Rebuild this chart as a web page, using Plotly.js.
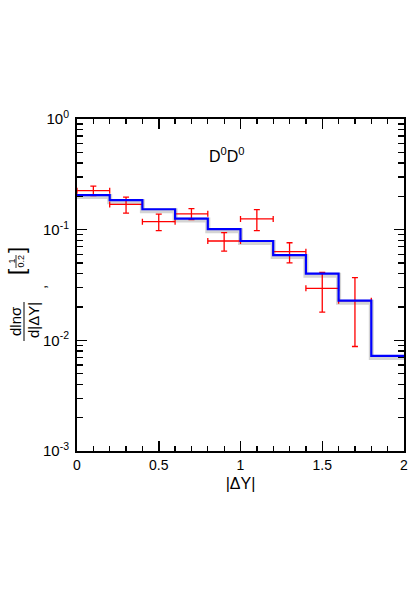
<!DOCTYPE html>
<html>
<head>
<meta charset="utf-8">
<script src="https://cdn.plot.ly/plotly-3.0.1.min.js"></script>
<style>html,body{margin:0;padding:0;background:#fff;}#plot{width:415px;height:593px;}</style>
</head>
<body>
<div id="plot"></div>
<script>
// Bin edges in |ΔY|
const binEdges = [0, 0.2, 0.4, 0.6, 0.8, 1.0, 1.2, 1.4, 1.6, 1.8, 2.0];
// Theory (blue histogram), one value per bin
const theory = [0.205, 0.185, 0.153, 0.126, 0.101, 0.079, 0.059, 0.040, 0.0228, 0.00724];
// Theory uncertainty band (gray)
const bandVals = [0.199, 0.179, 0.148, 0.122, 0.098, 0.0765, 0.0572, 0.0388, 0.0221, 0.0070];
// Data points (red)
const dataX = [0.1, 0.3, 0.5, 0.7, 0.9, 1.1, 1.3, 1.5, 1.7];
const dataY = [0.225, 0.169, 0.118, 0.139, 0.079, 0.125, 0.0632, 0.0295, 0.0228];
const dataErrY = [0.022, 0.028, 0.020, 0.016, 0.015, 0.027, 0.013, 0.0115, 0.014];
const dataErrX = [0.1, 0.1, 0.1, 0.1, 0.1, 0.1, 0.1, 0.1, 0.1];
// Tick labels
const xTickVals = [0, 0.5, 1, 1.5, 2];
const xTickText = ['0', '0.5', '1', '1.5', '2'];
const yTickVals = [0.001, 0.01, 0.1, 1];
const yTickText = ['10<sup>-3</sup>', '10<sup>-2</sup>', '10<sup>-1</sup>', '10<sup>0</sup>'];

const stepY = theory.concat([theory[theory.length - 1]]);
const bandY = bandVals.concat([bandVals[bandVals.length - 1]]);

const yMinor = [];
for (let e = -3; e < 0; e++) for (let d = 2; d <= 9; d++) yMinor.push(d * Math.pow(10, e));

const traces = [
  {
    x: binEdges, y: bandY, type: 'scatter', mode: 'lines',
    line: {shape: 'hv', color: 'rgba(160,160,160,0.45)', width: 5},
    hoverinfo: 'skip', showlegend: false
  },
  {
    x: dataX, y: dataY, type: 'scatter', mode: 'markers',
    marker: {size: 1, color: 'rgba(0,0,0,0)'},
    error_y: {type: 'data', array: dataErrY, visible: true, color: '#ff0000', thickness: 1.3, width: 3},
    error_x: {type: 'data', array: dataErrX, visible: true, color: '#ff0000', thickness: 1.3, width: 3},
    showlegend: false
  },
  {
    x: binEdges, y: stepY, type: 'scatter', mode: 'lines',
    line: {shape: 'hv', color: '#0000ff', width: 2.2},
    showlegend: false
  }
];

const L = 77, R = 404, T = 119, B = 451;
const px = v => (v - L) / (R - L);
const py = v => (B - v) / (B - T);
const font = 'Liberation Sans, Arial, sans-serif';

function rotText(text, x, y, size) {
  return {xref: 'paper', yref: 'paper', x: px(x), y: py(y), xanchor: 'center', yanchor: 'middle',
          text: text, textangle: -90, showarrow: false, font: {size: size, family: font}};
}

const layout = {
  width: 415, height: 593,
  margin: {l: L, r: 415 - R, t: T, b: 593 - B, pad: 0},
  paper_bgcolor: '#fff', plot_bgcolor: '#fff',
  font: {family: font, color: '#000', size: 14},
  xaxis: {
    range: [0, 2], tickmode: 'array', tickvals: xTickVals, ticktext: xTickText,
    ticks: 'inside', ticklen: 10, tickwidth: 1.5, tickcolor: '#000',
    showline: true, linewidth: 2, linecolor: '#000', mirror: 'ticks',
    showgrid: false, zeroline: false,
    minor: {tickmode: 'linear', tick0: 0, dtick: 0.1, ticks: 'inside', ticklen: 5, tickwidth: 1.3, tickcolor: '#000', showgrid: false},
    tickfont: {size: 14, family: font},
    title: {text: '|ΔY|', font: {size: 16, family: font}, standoff: 6}
  },
  yaxis: {
    type: 'log', range: [-3, 0], tickmode: 'array', tickvals: yTickVals, ticktext: yTickText,
    ticks: 'inside', ticklen: 10, tickwidth: 1.5, tickcolor: '#000',
    showline: true, linewidth: 2, linecolor: '#000', mirror: 'ticks',
    showgrid: false, zeroline: false,
    minor: {tickmode: 'array', tickvals: yMinor, ticks: 'inside', ticklen: 6, tickwidth: 1.3, tickcolor: '#000', showgrid: false},
    tickfont: {size: 15, family: font},
    ticklabelstandoff: 3
  },
  annotations: [
    {xref: 'x', yref: 'paper', x: 0.92, y: py(155), xanchor: 'center', yanchor: 'middle',
     text: 'D<sup>0</sup>D<sup>0</sup>', showarrow: false, font: {size: 16, family: font}},
    rotText('dlnσ', 15, 321, 15),
    rotText('d|ΔY|', 33, 320, 15),
    rotText(',', 40, 287, 15),
    rotText('[', 16, 272, 22),
    rotText(']', 16, 250, 22),
    rotText('1', 11.5, 261, 9),
    rotText('0.2', 20.5, 261, 9)
  ],
  shapes: [
    {type: 'line', xref: 'paper', yref: 'paper', x0: px(24), x1: px(24), y0: py(302), y1: py(341), line: {color: '#000', width: 1}},
    {type: 'line', xref: 'paper', yref: 'paper', x0: px(16), x1: px(16), y0: py(255), y1: py(268), line: {color: '#000', width: 0.8}}
  ]
};

Plotly.newPlot('plot', traces, layout, {displayModeBar: false, staticPlot: true});
</script>
</body>
</html>
